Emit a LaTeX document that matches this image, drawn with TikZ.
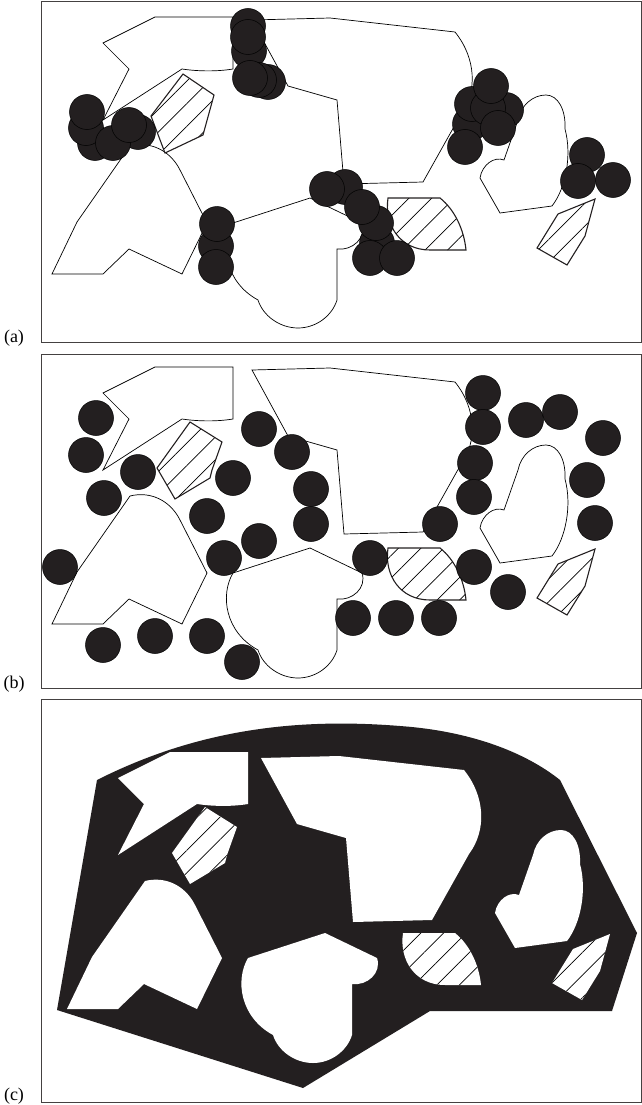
\documentclass[tikz,border=0pt]{standalone}
\usepackage{fontspec}
\setmainfont{Liberation Serif}
\usetikzlibrary{patterns.meta}

\definecolor{ink}{HTML}{231F20}

\tikzset{
  panel/.style={draw=ink!85, line width=1pt},
  grain/.style={draw=black, line width=0.7pt, fill=white},
  hatched/.style={draw=ink, line width=1.1pt, preaction={fill=white},
    pattern={Lines[angle=45,distance=16pt,line width=0.7pt]}},
  particle/.style={draw=black, line width=0.5pt, fill=ink},
  hole/.style={fill=white},
  hatchhole/.style={preaction={fill=white},
    pattern={Lines[angle=45,distance=16pt,line width=0.7pt]}},
  tag/.style={font=\fontsize{18}{21}\selectfont, inner sep=0pt}
}

% grain outlines, in the coordinates of panel (a)
\newcommand\grainArrow{(155,17) -- (233,17) -- (233,69) .. controls (215,72) and (195,71) .. (182,69) -- (103,120) -- (129,69) -- (103,43) -- cycle}
\newcommand\grainHexA{(183,74) -- (214,95) -- (203,135) -- (165,153) -- (151,116) -- cycle}
\newcommand\grainHex{(190,72) -- (222,92) -- (212,120) -- (210,128) -- (175,149) -- (157,118) -- cycle}
\newcommand\grainBlock{(252,20) -- (330,18) -- (455,32) .. controls (476,58) and (478,92) .. (460,116) -- (423,182) -- (344,184) -- (337,100) -- (288,86) -- cycle}
\newcommand\grainHouse{(130,146) .. controls (150,141) and (170,150) .. (180,170) -- (207,223) -- (182,274) -- (129,249) -- (103,274) -- (52,274) -- (77,222) -- cycle}
\newcommand\grainMitten{(233,223) -- (310,198) -- (362,223) .. controls (367,238) and (352,251) .. (337,249) -- (337,300) .. controls (332,316) and (316,328) .. (298,328) .. controls (280,328) and (263,316) .. (258,300) .. controls (225,282) and (220,245) .. (233,223) -- cycle}
\newcommand\grainHeart{(500,213) -- (552,206) .. controls (566,188) and (572,155) .. (565,129) .. controls (566,110) and (558,95) .. (546,95) .. controls (533,95) and (521,105) .. (518,120) -- (504,160) .. controls (494,156) and (482,165) .. (480,178) -- cycle}
\newcommand\grainDee{(388,198) -- (440,198) .. controls (455,210) and (464,230) .. (466,250) -- (430,250) .. controls (400,250) and (384,225) .. (388,198) -- cycle}
\newcommand\grainKite{(595,199) -- (585,236) -- (567,265) -- (537,248) -- (558,214) -- cycle}

\begin{document}
\begin{tikzpicture}[x=1pt,y=-1pt]
  \useasboundingbox (0,0) rectangle (642,1105);

  % panel (a)
  \draw[panel] (41,2) rectangle (641,342);
  \draw[grain] \grainArrow;
  \draw[grain] \grainBlock;
  \draw[grain] \grainHouse;
  \draw[grain] \grainMitten;
  \draw[grain] \grainHeart;
  \draw[hatched] \grainHexA;
  \draw[hatched] \grainDee;
  \draw[hatched] \grainKite;
  \foreach \x/\y in {248/26,249/51,248/37,268/82,259/80,250/78,
      95/143,86/128,87/112,138/132,113/143,129/125,
      216/246,217/224,216/267,
      345/187,327/189,377/243,376/223,362/207,370/258,397/258,
      506/110,470/124,472/104,488/108,491/86,498/128,465/147,
      587/155,578/181,613/180}
    \draw[particle] (\x,\y) circle (17.5pt);
  \node[tag] (lab-a) at (14,338) {(a)};

  % panel (b)
  \draw[panel] (41,354) rectangle (641,688);
  \begin{scope}[shift={(0,350)}]
    \draw[grain] \grainArrow;
    \draw[grain] \grainBlock;
    \draw[grain] \grainHouse;
    \draw[grain] \grainMitten;
    \draw[grain] \grainHeart;
    \draw[hatched] \grainHex;
    \draw[hatched] \grainDee;
    \draw[hatched] \grainKite;
    \foreach \x/\y in {96/68,86/105,104/148,138/122,60/217,103/295,155/286,
        207/286,242/312,207/166,233/128,224/208,259/191,259/79,292/102,
        311/139,311/174,370/208,353/268,396/268,439/268,483/43,483/77,
        475/113,474/147,440/174,474/217,508/242,526/70,560/62,603/88,
        587/130,595/173}
      \draw[particle] (\x,\y) circle (17.5pt);
  \end{scope}
  \node[tag] (lab-b) at (14,684) {(b)};

  % panel (c)
  \draw[panel] (41,699) rectangle (641,1102);
  \fill[ink] (97,780) .. controls (200,728) and (300,718) .. (400,726)
    .. controls (470,731) and (525,752) .. (560,780) -- (637,933)
    -- (612,1011) -- (430,1011) -- (303,1088) -- (57,1010) -- cycle;
  \begin{scope}[shift={(15,735)}]
    \fill[hole] \grainArrow;
    \fill[hole] \grainHouse;
    \fill[hole] \grainMitten;
    \fill[hole] \grainHeart;
    \begin{scope}[shift={(-6,3)}]
      \fill[hole] \grainBlock;
    \end{scope}
    \fill[hatchhole] \grainHex;
    \fill[hatchhole] \grainDee;
    \fill[hatchhole] \grainKite;
  \end{scope}
  \node[tag] (lab-c) at (14,1096) {(c)};
\end{tikzpicture}
\end{document}
